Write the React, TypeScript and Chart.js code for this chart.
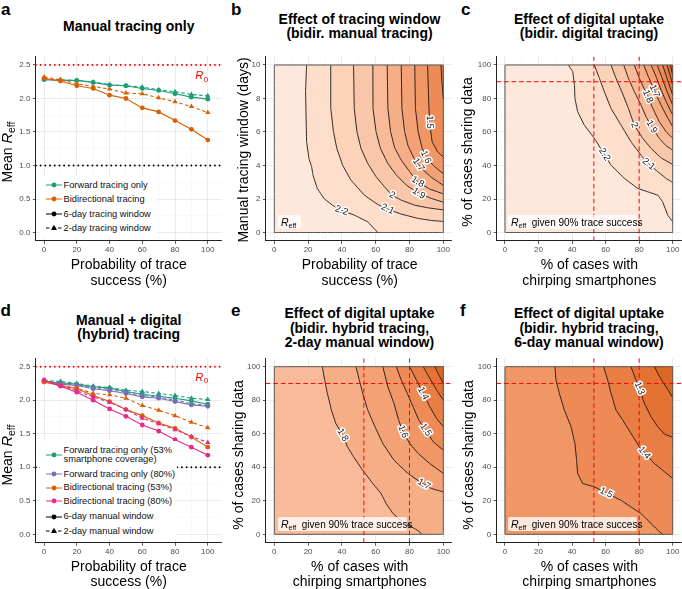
import React, { useEffect, useRef } from 'react';
import { Chart, registerables } from 'chart.js';

Chart.register(...registerables);

const FONT = "'Liberation Sans', Arial, Helvetica, sans-serif";
Chart.defaults.font.family = FONT;

// ================= DATA: panels a and d =================
const TRACE_SUCCESS = [0, 10, 20, 30, 40, 50, 60, 70, 80, 90, 100];

const A_FORWARD_6DAY = [2.28, 2.27, 2.27, 2.24, 2.2, 2.19, 2.15, 2.12, 2.07, 2.02, 1.99];
const A_FORWARD_2DAY = [2.29, 2.28, 2.27, 2.245, 2.205, 2.19, 2.17, 2.13, 2.1, 2.06, 2.04];
const A_BIDIR_6DAY = [2.3, 2.26, 2.19, 2.15, 2.05, 2.0, 1.86, 1.8, 1.67, 1.54, 1.38];
const A_BIDIR_2DAY = [2.32, 2.28, 2.22, 2.18, 2.14, 2.08, 2.07, 2.01, 1.95, 1.88, 1.79];

const D_FORWARD53_6DAY = [2.28, 2.26, 2.24, 2.2, 2.18, 2.13, 2.09, 2.06, 2.03, 1.99, 1.94];
const D_FORWARD53_2DAY = [2.29, 2.28, 2.25, 2.21, 2.19, 2.15, 2.13, 2.1, 2.07, 2.03, 2.01];
const D_FORWARD80_6DAY = [2.29, 2.24, 2.22, 2.17, 2.14, 2.1, 2.05, 2.03, 1.98, 1.93, 1.91];
const D_FORWARD80_2DAY = [2.29, 2.25, 2.23, 2.19, 2.16, 2.12, 2.07, 2.05, 2.0, 1.95, 1.92];
const D_BIDIR53_6DAY = [2.27, 2.22, 2.17, 2.07, 1.98, 1.86, 1.77, 1.66, 1.58, 1.45, 1.3];
const D_BIDIR53_2DAY = [2.28, 2.22, 2.18, 2.1, 2.08, 2.03, 1.92, 1.85, 1.77, 1.67, 1.59];
const D_BIDIR80_6DAY = [2.3, 2.21, 2.12, 2.0, 1.87, 1.76, 1.63, 1.54, 1.41, 1.3, 1.18];
const D_BIDIR80_2DAY = [2.3, 2.22, 2.14, 2.05, 1.97, 1.86, 1.73, 1.65, 1.56, 1.46, 1.37];

const REFERENCE_R = [2.5, 1.0];
const R0_LABEL_AT = [96, 2.35];

// ================= TICKS / LIMITS =================
const PCT_MAJOR = [0, 20, 40, 60, 80, 100];
const PCT_MINOR = [10, 30, 50, 70, 90];
const R_MAJOR = [0, 0.5, 1, 1.5, 2, 2.5];
const R_MINOR = [0.25, 0.75, 1.25, 1.75, 2.25];
const DAY_MAJOR = [0, 2, 4, 6, 8, 10];
const DAY_MINOR = [1, 3, 5, 7, 9];
const LINE_XLIM = [-5, 108.5];
const R_YLIM = [-0.125, 2.625];
const PCT_LIM = [-5, 105];
const DAY_LIM = [-0.5, 10.5];

// ================= DATA: contour panels =================
// b: x = probability of trace success (%), y = manual tracing window (days)
const B_LEVELS = [2.2, 2.1, 2, 1.9, 1.8, 1.7, 1.6, 1.5, 1.4];
const B_LINES = [
  [[19.1, 10], [18.5, 8.41], [18.9, 6.41], [19.1, 5.42], [20.5, 4.42], [22.1, 3.92], [22.9, 3.43], [25.4, 2.63], [29.4, 2.03], [34.4, 1.63], [39.4, 1.33], [47.3, 1.04], [55.3, 0.64], [61.2, 0]],
  [[33.4, 10], [33.4, 7.41], [35.0, 6.02], [37.0, 5.02], [40.4, 4.02], [45.3, 3.13], [53.3, 2.23], [61.2, 1.67], [67.2, 1.39], [75.1, 1.1], [85.1, 0.84], [93.0, 0.72], [100, 0.66]],
  [[46.9, 10], [47.3, 7.41], [48.9, 6.02], [51.3, 5.02], [55.3, 4.12], [60.2, 3.33], [65.2, 2.73], [69.6, 2.23], [75.1, 1.93], [83.1, 1.63], [91.1, 1.47], [100, 1.35]],
  [[58.3, 10], [58.4, 7.41], [60.2, 6.02], [62.8, 5.02], [67.2, 4.12], [72.2, 3.43], [78.1, 2.83], [85.5, 2.33], [93.0, 2.03], [100, 1.81]],
  [[66.8, 10], [67.2, 7.41], [68.8, 6.02], [71.2, 5.06], [75.1, 4.32], [80.1, 3.63], [84.7, 3.03], [92.0, 2.59], [100, 2.31]],
  [[75.1, 10], [75.5, 7.41], [77.1, 6.02], [79.1, 5.18], [82.7, 4.42], [86.1, 3.92], [93.0, 3.29], [100, 2.81]],
  [[83.1, 10], [83.5, 7.41], [85.1, 6.02], [87.5, 5.02], [90.1, 4.42], [95.0, 3.92], [100, 3.51]],
  [[90.7, 10], [91.5, 7.41], [92.0, 6.41], [93.4, 5.42], [96.6, 4.82], [100, 4.5]],
  [[98.6, 10], [99.2, 9.0], [100, 8.0]],
];
const B_LABELS = [[2.2, 40, 1.36], [2.1, 67.1, 1.42], [2, 69.6, 2.2], [1.9, 85.5, 2.33], [1.8, 84.7, 3.0], [1.7, 84.7, 4.0], [1.6, 89.5, 4.5], [1.5, 91.8, 6.6]];

// c: x = % with chirping smartphones, y = % sharing data
const C_LEVELS = [2.2, 2.1, 2, 1.9, 1.8, 1.7, 1.6, 1.5, 1.4, 1.3, 1.2];
const C_LINES = [
  [[37.8, 100], [40.4, 96], [41.4, 88], [41.7, 80.1], [43.3, 72.1], [47.3, 64.1], [53.3, 56.2], [58.3, 48.2], [63.2, 40.2], [71.2, 32.3], [79.1, 26.3], [85.1, 24.3], [91.1, 22.3], [94.0, 18.3], [97.0, 10.4], [100, 6.4]],
  [[53.3, 100], [56.3, 92], [59.2, 84.1], [63.2, 74.1], [69.2, 64.1], [75.1, 54.2], [81.1, 46.2], [85.1, 41.2], [91.1, 36.3], [96.0, 32.3], [100, 29.9]],
  [[63.2, 100], [66.2, 92], [69.6, 84.1], [73.6, 74.1], [77.1, 64.1], [82.1, 56.2], [87.1, 50.2], [93.0, 44.6], [100, 40.6]],
  [[70.8, 100], [73.6, 92], [77.1, 84.1], [81.1, 76.1], [84.1, 69.1], [87.5, 63.1], [92.0, 56.2], [96.0, 51.8], [100, 49.2]],
  [[77.1, 100], [80.1, 92], [84.7, 82.1], [88.1, 74.1], [92.0, 66.1], [96.0, 60.2], [100, 56.2]],
  [[82.7, 100], [85.5, 93], [89.1, 84.5], [93.0, 76.1], [96.6, 69.1], [100, 63.1]],
  [[87.1, 100], [90.1, 93], [93.0, 85.1], [96.6, 77.1], [100, 70.1]],
  [[90.7, 100], [93.4, 93], [96.6, 84.1], [100, 76.1]],
  [[94.0, 100], [96.6, 92], [100, 82.1]],
  [[96.6, 100], [98.4, 94], [100, 88]],
  [[98.6, 100], [100, 94]],
];
const C_LABELS = [[2.2, 58.8, 46.2], [2.1, 85.1, 40.2], [2, 77.1, 64.1], [1.9, 87.5, 63.1], [1.8, 84.7, 81.1], [1.7, 89.1, 84.5]];

// e: hybrid, 2-day manual window
const E_LEVELS = [1.8, 1.7, 1.6, 1.5, 1.4, 1.3, 1.2];
const E_LINES = [
  [[28.4, 100], [29.8, 92], [31.4, 84.1], [33.8, 74.1], [36.4, 66.1], [40.4, 59.2], [43.3, 52.2], [46.9, 46.2], [52.3, 38.2], [58.3, 30.3], [63.2, 24.3], [66.2, 18.3], [70.2, 12.4], [77.1, 6.4], [83.1, 3.4], [86.1, 1.4], [87.1, 0]],
  [[48.3, 100], [50.3, 92], [52.3, 84.1], [55.3, 74.1], [59.6, 64.1], [64.2, 54.2], [70.8, 44.2], [79.1, 36.3], [86.1, 31.3], [93.0, 27.3], [100, 25.3]],
  [[64.2, 100], [67.2, 88], [70.8, 78.1], [73.6, 68.1], [76.1, 61.2], [80.1, 54.2], [85.1, 48.2], [92.0, 42.2], [100, 36.3]],
  [[72.2, 100], [75.1, 92], [78.7, 84.1], [82.1, 76.1], [85.5, 68.1], [89.5, 62.2], [94.0, 55.2], [100, 50.2]],
  [[80.1, 100], [84.1, 92], [88.1, 84.1], [92.0, 76.1], [96.0, 69.1], [100, 64.1]],
  [[88.1, 100], [92.0, 93], [96.0, 86.1], [100, 80.1]],
  [[95.0, 100], [97.4, 95], [100, 90]],
];
const E_LABELS = [[1.8, 40.4, 59.2], [1.7, 88.1, 29], [1.6, 76.1, 61.2], [1.5, 89.5, 62.2], [1.4, 88.1, 84.1]];

// f: hybrid, 6-day manual window
const F_LEVELS = [1.5, 1.4, 1.3, 1.2];
const F_LINES = [
  [[29.8, 100], [30.4, 92], [32.4, 84.1], [35.4, 74.1], [39.4, 64.1], [41.7, 54.2], [42.7, 44.2], [43.3, 36.3], [46.3, 30.3], [53.3, 28.3], [59.2, 25.3], [69.2, 20.3], [75.1, 16.3], [81.1, 12.4], [87.1, 6.4], [91.1, 2.4], [94.0, 0]],
  [[58.8, 100], [61.2, 92], [63.2, 84.1], [66.2, 74.1], [70.2, 68.1], [75.1, 60.2], [80.1, 52.2], [83.1, 48.6], [89.1, 42.2], [94.0, 38.2], [100, 33.3]],
  [[75.1, 100], [78.1, 92], [80.1, 87.1], [83.1, 78.1], [87.1, 70.1], [91.1, 64.1], [95.0, 59.8], [100, 57.8]],
  [[89.1, 100], [91.1, 96], [94.0, 91], [97.0, 86.5], [100, 81.5]],
];
const F_LABELS = [[1.5, 60.2, 24.5], [1.4, 83.1, 48.6], [1.3, 80.1, 87.1]];

const UPTAKE_MARK_X = [53, 80];
const SHARING_MARK_Y = [90];

// fill colour scale (R value -> rgb)
const FILL_STOPS = [
  [2.3, 254, 237, 226], [2.2, 253, 227, 211], [2.1, 252, 216, 194], [2.0, 251, 204, 177],
  [1.9, 249, 192, 160], [1.8, 247, 180, 143], [1.7, 245, 168, 126], [1.6, 242, 156, 109],
  [1.5, 239, 144, 93], [1.4, 235, 132, 76], [1.3, 230, 120, 59], [1.2, 224, 108, 43], [1.1, 216, 96, 28],
];

const GREEN = '#1b9e77', ORANGE = '#d95f02', PURPLE = '#7570b3', PINK = '#e7298a';

// ================= LAYOUT =================
const COLS = [
  { cl: 0, cr: 226, l: 35.9, r: 221.7 },
  { cl: 226, cr: 456, l: 265.85, r: 451.75 },
  { cl: 456, cr: 682, l: 496.6, r: 681.1 },
];
const ROWS = [
  { ct: 48, cb: 262, t: 56.6, b: 240.9 },
  { ct: 350, cb: 562, t: 358.3, b: 542.7 },
];

function fillColor(v: number) {
  const s = FILL_STOPS;
  if (v >= s[0][0]) return `rgb(${s[0][1]},${s[0][2]},${s[0][3]})`;
  for (let i = 0; i < s.length - 1; i++) {
    const a = s[i], b = s[i + 1];
    if (v <= a[0] && v >= b[0]) {
      const t = (a[0] - v) / (a[0] - b[0]);
      const c = [1, 2, 3].map((k) => Math.round(a[k] + (b[k] - a[k]) * t));
      return `rgb(${c[0]},${c[1]},${c[2]})`;
    }
  }
  const l = s[s.length - 1];
  return `rgb(${l[1]},${l[2]},${l[3]})`;
}

function axis(lim: number[], major: number[], minor: number[], fmt: (v: number) => string, isX: boolean, size: number) {
  const majorSet = new Set(major);
  const all = [...major, ...minor].sort((a, b) => a - b);
  return {
    type: 'linear',
    min: lim[0],
    max: lim[1],
    afterBuildTicks: (s: any) => {
      s.ticks = all.map((v) => ({ value: v }));
    },
    afterFit: (s: any) => {
      if (isX) s.height = size;
      else s.width = size;
      s.paddingLeft = 0;
      s.paddingRight = 0;
      s.paddingTop = 0;
      s.paddingBottom = 0;
    },
    ticks: {
      autoSkip: false,
      maxRotation: 0,
      minRotation: 0,
      padding: isX ? 1.5 : 2.5,
      color: '#4d4d4d',
      font: { size: 8, family: FONT },
      callback: (v: number) => (majorSet.has(v) ? fmt(v) : ''),
    },
    grid: {
      color: (c: any) => (majorSet.has(c.tick?.value) ? '#e6e6e6' : '#f3f3f3'),
      lineWidth: (c: any) => (majorSet.has(c.tick?.value) ? 0.8 : 0.5),
      tickColor: (c: any) => (majorSet.has(c.tick?.value) ? '#333' : 'rgba(0,0,0,0)'),
      tickLength: 3,
      drawTicks: true,
    },
    border: { display: true, color: '#222', width: 1 },
  };
}

function baseOptions(c: any, r: any, x: any, y: any) {
  return {
    responsive: false,
    animation: false,
    events: [],
    layout: { padding: { left: 0, top: r.t - r.ct, right: c.cr - c.r, bottom: 0 } },
    plugins: { legend: { display: false }, tooltip: { enabled: false }, title: { display: false } },
    scales: { x, y },
  };
}

const r0Plugin = {
  id: 'r0label',
  afterDatasetsDraw(chart: any) {
    const { ctx } = chart;
    const px = chart.scales.x.getPixelForValue(R0_LABEL_AT[0]);
    const py = chart.scales.y.getPixelForValue(R0_LABEL_AT[1]);
    ctx.save();
    ctx.fillStyle = 'rgb(255,0,0)';
    ctx.textBaseline = 'alphabetic';
    ctx.textAlign = 'left';
    ctx.font = `italic 11px ${FONT}`;
    const w = ctx.measureText('R').width;
    ctx.fillText('R', px - 6, py + 4);
    ctx.font = `8px ${FONT}`;
    ctx.fillText('0', px - 6 + w + 0.5, py + 6.5);
    ctx.restore();
  },
};

function lineConfig(c: any, r: any, series: { ys: number[]; color: string; dashed: boolean }[]) {
  const datasets: any[] = [];
  REFERENCE_R.forEach((v, i) =>
    datasets.push({
      data: [{ x: LINE_XLIM[0], y: v }, { x: LINE_XLIM[1], y: v }],
      showLine: true,
      borderColor: i === 0 ? 'rgb(255,0,0)' : '#000',
      borderWidth: 1.9,
      borderDash: [0.01, 4.7],
      borderCapStyle: 'round',
      pointRadius: 0,
      fill: false,
    })
  );
  series.forEach((s) =>
    datasets.push({
      data: TRACE_SUCCESS.map((x, i) => ({ x, y: s.ys[i] })),
      showLine: true,
      borderColor: s.color,
      backgroundColor: s.color,
      borderWidth: 1.1,
      borderDash: s.dashed ? [3.5, 2.5] : [],
      pointStyle: s.dashed ? 'triangle' : 'circle',
      pointRadius: s.dashed ? 3 : 2.4,
      pointBorderWidth: 0,
      pointBackgroundColor: s.color,
      fill: false,
    })
  );
  datasets.forEach((d, i) => (d.order = -i));
  const fmtR = (v: number) => v.toFixed(1);
  return {
    type: 'scatter',
    data: { datasets },
    options: baseOptions(
      c,
      r,
      axis(LINE_XLIM, PCT_MAJOR, PCT_MINOR, String, true, r.cb - r.b),
      axis(R_YLIM, R_MAJOR, R_MINOR, fmtR, false, c.l - c.cl)
    ),
    plugins: [r0Plugin],
  };
}

function contourLabelPlugin(levels: number[], lines: number[][][], labels: number[][]) {
  return {
    id: 'contourLabels',
    afterDatasetsDraw(chart: any) {
      const { ctx } = chart;
      const xs = chart.scales.x, ys = chart.scales.y;
      ctx.save();
      ctx.font = `9.5px ${FONT}`;
      ctx.textAlign = 'center';
      ctx.textBaseline = 'middle';
      ctx.lineJoin = 'round';
      for (const [lev, lx, ly] of labels) {
        const idx = levels.indexOf(lev);
        if (idx < 0) continue;
        const pts = lines[idx].map(([a, b]) => [xs.getPixelForValue(a), ys.getPixelForValue(b)]);
        const px = xs.getPixelForValue(lx), py = ys.getPixelForValue(ly);
        let best = Infinity, bx = px, by = py, ang = 0;
        for (let k = 0; k < pts.length - 1; k++) {
          const [x1, y1] = pts[k], [x2, y2] = pts[k + 1];
          const dx = x2 - x1, dy = y2 - y1;
          const L2 = dx * dx + dy * dy || 1;
          let t = ((px - x1) * dx + (py - y1) * dy) / L2;
          t = Math.max(0, Math.min(1, t));
          const qx = x1 + t * dx, qy = y1 + t * dy;
          const d = (qx - px) ** 2 + (qy - py) ** 2;
          if (d < best) {
            best = d;
            bx = qx;
            by = qy;
            ang = Math.atan2(dy, dx);
          }
        }
        if (ang > Math.PI / 2 + 1e-6) ang -= Math.PI;
        if (ang <= -Math.PI / 2 + 1e-6) ang += Math.PI;
        ctx.save();
        ctx.translate(bx, by);
        ctx.rotate(ang);
        ctx.lineWidth = 3;
        ctx.strokeStyle = '#ffffff';
        ctx.strokeText(String(lev), 0, 0);
        ctx.fillStyle = '#222';
        ctx.fillText(String(lev), 0, 0);
        ctx.restore();
      }
      ctx.restore();
    },
  };
}

function contourConfig(c: any, r: any, levels: number[], lines: number[][][], labels: number[][], yLim: number[], yMajor: number[], yMinor: number[], yTop: number, marks: boolean) {
  const xmax = 100;
  const pts = (arr: number[][]) => arr.map(([x, y]) => ({ x, y }));
  const rect = [[0, 0], [xmax, 0], [xmax, yTop], [0, yTop], [0, 0]];
  const datasets: any[] = [];
  const smooth = { tension: 0.0001, capBezierPoints: false };
  const polyBase = { showLine: true, fill: 'shape', borderColor: 'rgba(0,0,0,0)', borderWidth: 0, pointRadius: 0, ...smooth };
  datasets.push({ ...polyBase, data: pts(rect), backgroundColor: fillColor(levels[0] + 0.05) });
  lines.forEach((line, i) => {
    const next = i + 1 < levels.length ? levels[i + 1] : levels[i] - 0.1;
    const val = (levels[i] + next) / 2;
    const poly = line.slice();
    const last = line[line.length - 1];
    if (last[1] <= 0.0001 && last[0] < xmax) poly.push([xmax, 0]);
    poly.push([xmax, yTop]);
    datasets.push({ ...polyBase, data: pts(poly), backgroundColor: fillColor(val) });
  });
  lines.forEach((line) =>
    datasets.push({ data: pts(line), showLine: true, fill: false, borderColor: '#141414', borderWidth: 0.9, pointRadius: 0, ...smooth })
  );
  datasets.push({ data: pts(rect), showLine: true, fill: false, borderColor: '#555', borderWidth: 1, pointRadius: 0, ...smooth });
  if (marks) {
    UPTAKE_MARK_X.forEach((v) =>
      datasets.push({ data: [{ x: v, y: yLim[0] }, { x: v, y: yLim[1] }], showLine: true, fill: false, borderColor: 'rgb(255,0,0)', borderWidth: 1, borderDash: [4.5, 3], pointRadius: 0 })
    );
    SHARING_MARK_Y.forEach((v) =>
      datasets.push({ data: [{ x: PCT_LIM[0], y: v }, { x: PCT_LIM[1], y: v }], showLine: true, fill: false, borderColor: 'rgb(255,0,0)', borderWidth: 1, borderDash: [4.5, 3], pointRadius: 0 })
    );
  }
  datasets.forEach((d, i) => (d.order = -i));
  return {
    type: 'scatter',
    data: { datasets },
    options: baseOptions(
      c,
      r,
      axis(PCT_LIM, PCT_MAJOR, PCT_MINOR, String, true, r.cb - r.b),
      axis(yLim, yMajor, yMinor, String, false, c.l - c.cl)
    ),
    plugins: [contourLabelPlugin(levels, lines, labels)],
  };
}

function ChartPanel({ col, row, make }: { col: number; row: number; make: (c: any, r: any) => any }) {
  const ref = useRef<HTMLCanvasElement>(null);
  const c = COLS[col], r = ROWS[row];
  useEffect(() => {
    const chart = new Chart(ref.current as HTMLCanvasElement, make(c, r));
    return () => chart.destroy();
  }, []);
  const w = c.cr - c.cl, h = r.cb - r.ct;
  return <canvas ref={ref} width={w} height={h} style={{ position: 'absolute', left: c.cl, top: r.ct, width: w, height: h }} />;
}

const makeA = (c: any, r: any) =>
  lineConfig(c, r, [
    { ys: A_FORWARD_6DAY, color: GREEN, dashed: false },
    { ys: A_FORWARD_2DAY, color: GREEN, dashed: true },
    { ys: A_BIDIR_6DAY, color: ORANGE, dashed: false },
    { ys: A_BIDIR_2DAY, color: ORANGE, dashed: true },
  ]);
const makeD = (c: any, r: any) =>
  lineConfig(c, r, [
    { ys: D_FORWARD53_6DAY, color: GREEN, dashed: false },
    { ys: D_FORWARD53_2DAY, color: GREEN, dashed: true },
    { ys: D_FORWARD80_6DAY, color: PURPLE, dashed: false },
    { ys: D_FORWARD80_2DAY, color: PURPLE, dashed: true },
    { ys: D_BIDIR53_6DAY, color: ORANGE, dashed: false },
    { ys: D_BIDIR53_2DAY, color: ORANGE, dashed: true },
    { ys: D_BIDIR80_6DAY, color: PINK, dashed: false },
    { ys: D_BIDIR80_2DAY, color: PINK, dashed: true },
  ]);
const makeB = (c: any, r: any) => contourConfig(c, r, B_LEVELS, B_LINES, B_LABELS, DAY_LIM, DAY_MAJOR, DAY_MINOR, 10, false);
const makeC = (c: any, r: any) => contourConfig(c, r, C_LEVELS, C_LINES, C_LABELS, PCT_LIM, PCT_MAJOR, PCT_MINOR, 100, true);
const makeE = (c: any, r: any) => contourConfig(c, r, E_LEVELS, E_LINES, E_LABELS, PCT_LIM, PCT_MAJOR, PCT_MINOR, 100, true);
const makeF = (c: any, r: any) => contourConfig(c, r, F_LEVELS, F_LINES, F_LABELS, PCT_LIM, PCT_MAJOR, PCT_MINOR, 100, true);

// ================= HTML text =================
const abs = (x: number, y: number, extra: any = {}) => ({ position: 'absolute' as const, left: x, top: y, ...extra });

function Letter({ x, y, t }: { x: number; y: number; t: string }) {
  return <div style={abs(x, y, { fontSize: 17, fontWeight: 'bold', lineHeight: '17px' })}>{t}</div>;
}
function Title({ cx, top, lines }: { cx: number; top: number; lines: string[] }) {
  return (
    <div style={abs(cx - 150, top, { width: 300, textAlign: 'center', fontSize: 14, fontWeight: 'bold', lineHeight: '14.7px', whiteSpace: 'pre' })}>
      {lines.join('\n')}
    </div>
  );
}
function XTitle({ cx, top, lines }: { cx: number; top: number; lines: string[] }) {
  return (
    <div style={abs(cx - 150, top, { width: 300, textAlign: 'center', fontSize: 14, lineHeight: '15.5px', whiteSpace: 'pre' })}>
      {lines.join('\n')}
    </div>
  );
}
function YTitle({ cx, cy, children }: { cx: number; cy: number; children: any }) {
  return (
    <div style={abs(cx, cy, { transform: 'translate(-50%,-50%) rotate(-90deg)', fontSize: 14, lineHeight: '16px', whiteSpace: 'nowrap' })}>
      {children}
    </div>
  );
}
const Reff = ({ size = 14 }: { size?: number }) => (
  <span>
    <i style={{ fontSize: size * 1.05 }}>R</i>
    <span style={{ fontSize: size * 0.75, verticalAlign: -size * 0.22 }}>eff</span>
  </span>
);

function Key({ x, cy, color, dashed }: { x: number; cy: number; color: string; dashed: boolean }) {
  return (
    <svg width={16} height={10} style={abs(x, cy - 5)}>
      <line x1={0} y1={5} x2={16} y2={5} stroke={color} strokeWidth={1} strokeDasharray={dashed ? '3.5 2.5' : undefined} />
      {dashed ? <polygon points="8,1.8 11,7 5,7" fill={color} /> : <circle cx={8} cy={5} r={2.4} fill={color} />}
    </svg>
  );
}
function LegendItem({ cy, color, dashed, lines, lh = 10.5 }: { cy: number; color: string; dashed: boolean; lines: string[]; lh?: number }) {
  return (
    <>
      <Key x={46} cy={cy} color={color} dashed={dashed} />
      <div style={abs(63.5, cy - (lh * lines.length) / 2, { fontSize: 9.3, lineHeight: `${lh}px`, whiteSpace: 'pre', color: '#111' })}>{lines.join('\n')}</div>
    </>
  );
}
function InfoBox({ x, y, w, text }: { x: number; y: number; w: number; text: string }) {
  return (
    <div style={abs(x, y, { width: w, height: 14.5, background: 'rgba(255,255,255,0.78)', borderRadius: 2, fontSize: 10, lineHeight: '14px', paddingLeft: 3, boxSizing: 'border-box', whiteSpace: 'pre' })}>
      <i style={{ fontSize: 10.5 }}>R</i>
      <span style={{ fontSize: 7, verticalAlign: -2 }}>eff</span>
      {text}
    </div>
  );
}

export default function App() {
  return (
    <div style={{ position: 'absolute', left: 0, top: 0, width: 682, height: 589, background: '#fff', fontFamily: FONT, color: '#000', overflow: 'hidden' }}>
      <ChartPanel col={0} row={0} make={makeA} />
      <ChartPanel col={1} row={0} make={makeB} />
      <ChartPanel col={2} row={0} make={makeC} />
      <ChartPanel col={0} row={1} make={makeD} />
      <ChartPanel col={1} row={1} make={makeE} />
      <ChartPanel col={2} row={1} make={makeF} />

      <Letter x={1} y={0.5} t="a" />
      <Letter x={231} y={0.5} t="b" />
      <Letter x={461} y={0.5} t="c" />
      <Letter x={0.5} y={301.5} t="d" />
      <Letter x={231} y={301.5} t="e" />
      <Letter x={460} y={301.5} t="f" />

      <Title cx={128.7} top={18.65} lines={['Manual tracing only']} />
      <Title cx={359.5} top={11.65} lines={['Effect of tracing window', '(bidir. manual tracing)']} />
      <Title cx={589} top={11.65} lines={['Effect of digital uptake', '(bidir. digital tracing)']} />
      <Title cx={128.7} top={312.65} lines={['Manual + digital', '(hybrid) tracing']} />
      <Title cx={359.5} top={306} lines={['Effect of digital uptake', '(bidir. hybrid tracing,', '2-day manual window)']} />
      <Title cx={589} top={306} lines={['Effect of digital uptake', '(bidir. hybrid tracing,', '6-day manual window)']} />

      <XTitle cx={128.7} top={257.25} lines={['Probability of trace', 'success (%)']} />
      <XTitle cx={359.7} top={257.25} lines={['Probability of trace', 'success (%)']} />
      <XTitle cx={589.3} top={257.25} lines={['% of cases with', 'chirping smartphones']} />
      <XTitle cx={128.7} top={558.95} lines={['Probability of trace', 'success (%)']} />
      <XTitle cx={359.7} top={558.95} lines={['% of cases with', 'chirping smartphones']} />
      <XTitle cx={589.3} top={558.95} lines={['% of cases with', 'chirping smartphones']} />

      <YTitle cx={9} cy={152}>
        Mean <Reff />
      </YTitle>
      <YTitle cx={243} cy={150}>Manual tracing window (days)</YTitle>
      <YTitle cx={467} cy={152}>% of cases sharing data</YTitle>
      <YTitle cx={9} cy={455}>
        Mean <Reff />
      </YTitle>
      <YTitle cx={237.5} cy={455}>% of cases sharing data</YTitle>
      <YTitle cx={467.5} cy={455}>% of cases sharing data</YTitle>

      {/* legend a */}
      <div style={abs(40, 176, { width: 117, height: 61, background: '#fff' })} />
      <LegendItem cy={185} color={GREEN} dashed={false} lines={['Forward tracing only']} />
      <LegendItem cy={199.3} color={ORANGE} dashed={false} lines={['Bidirectional tracing']} />
      <LegendItem cy={214.3} color="#000" dashed={false} lines={['6-day tracing window']} />
      <LegendItem cy={228.3} color="#000" dashed={true} lines={['2-day tracing window']} />

      {/* legend d */}
      <div style={abs(40, 441, { width: 137, height: 98, background: '#fff' })} />
      <LegendItem cy={455} color={GREEN} dashed={false} lines={['Forward tracing only (53%', 'smartphone coverage)']} lh={9.4} />
      <LegendItem cy={474.3} color={PURPLE} dashed={false} lines={['Forward tracing only (80%)']} />
      <LegendItem cy={487.7} color={ORANGE} dashed={false} lines={['Bidirectional tracing (53%)']} />
      <LegendItem cy={501.3} color={PINK} dashed={false} lines={['Bidirectional tracing (80%)']} />
      <LegendItem cy={516.7} color="#000" dashed={false} lines={['6-day manual window']} />
      <LegendItem cy={531} color="#000" dashed={true} lines={['2-day manual window']} />

      <InfoBox x={278} y={214.5} w={22.5} text="" />
      <InfoBox x={508} y={214.5} w={128.5} text="  given 90% trace success" />
      <InfoBox x={278} y={516.8} w={128.5} text="  given 90% trace success" />
      <InfoBox x={508} y={516.8} w={128.5} text="  given 90% trace success" />
    </div>
  );
}
